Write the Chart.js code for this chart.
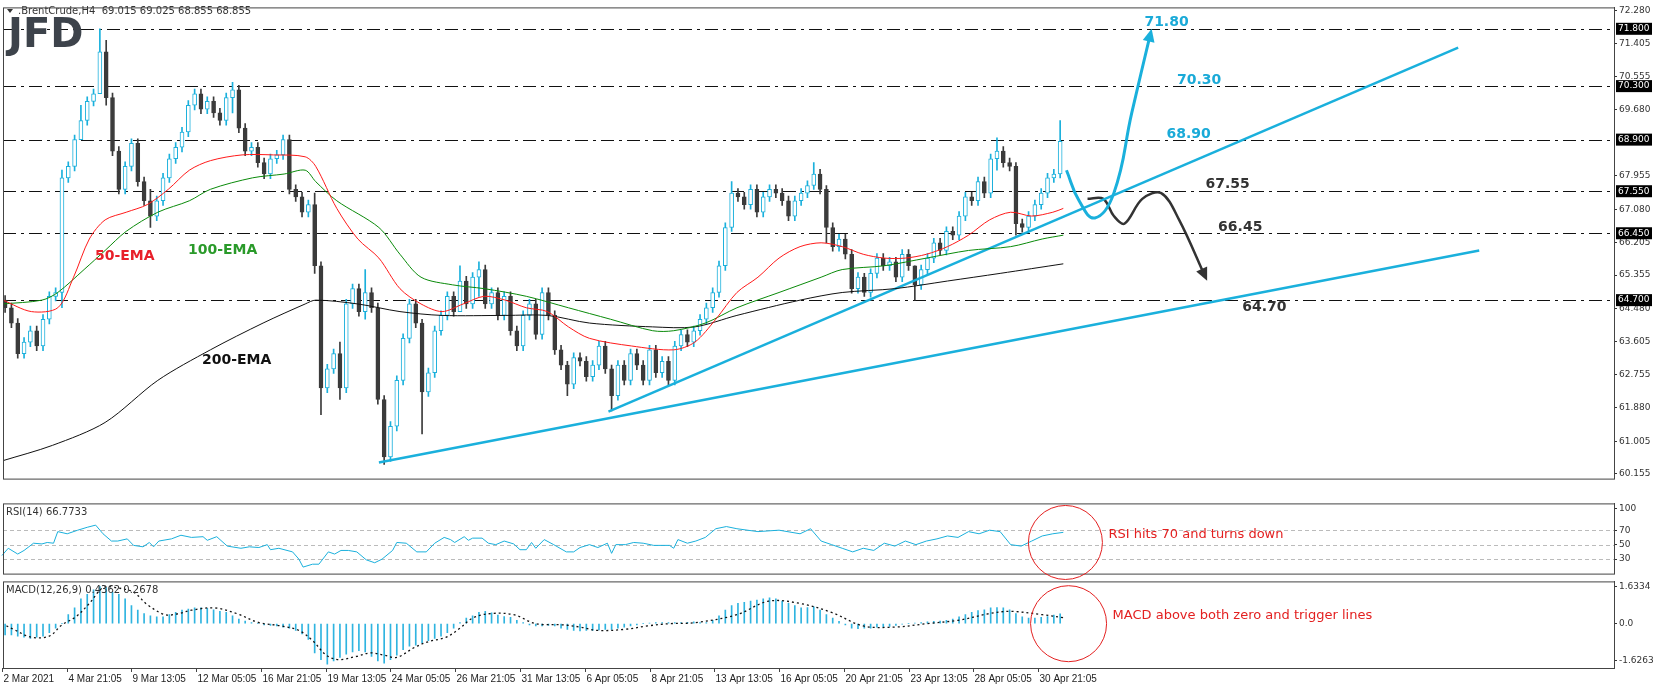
<!DOCTYPE html>
<html>
<head>
<meta charset="utf-8">
<script src="https://cdn.jsdelivr.net/npm/chart.js@4.4.1/dist/chart.umd.min.js"></script>
<style>
  body { margin: 0; background: #fff; width: 1655px; height: 688px; overflow: hidden; position: relative; font-family: "DejaVu Sans", sans-serif; }
  .pane { position: absolute; left: 0; width: 1655px; }
</style>
</head>
<body>
<div class="pane" style="top:0;height:486px"><canvas id="priceChart"></canvas></div>
<div class="pane" style="top:496px;height:85px"><canvas id="rsiChart"></canvas></div>
<div class="pane" style="top:574px;height:114px"><canvas id="macdChart"></canvas></div>
<script>
// --- data (time axis in chart units, one candle every 6 units) ---
const closes = [
  64.5, 64.1, 63.3, 63.6, 63.9, 63.5, 64.2, 64.8, 64.9, 67.9,
  68.2, 68.9, 69.4, 69.9, 70.1, 71.2, 70.0, 68.6, 67.6, 68.2,
  68.8, 67.8, 67.3, 66.9, 67.3, 67.9, 68.4, 68.7, 69.1, 69.8,
  70.1, 69.7, 69.9, 69.6, 69.4, 70.0, 70.2, 69.2, 68.6, 68.7,
  68.3, 68.0, 68.4, 68.5, 68.9, 67.6, 67.4, 67.0, 67.2, 65.6,
  62.4, 62.9, 63.3, 62.4, 64.6, 65.0, 64.4, 64.9, 64.5, 62.1,
  60.6, 61.4, 62.6, 63.7, 64.6, 64.1, 62.3, 62.8, 63.9, 64.3,
  64.8, 64.4, 65.2, 64.6, 65.3, 65.5, 64.6, 64.9, 64.3, 64.8,
  63.9, 63.5, 64.3, 64.6, 63.8, 64.9, 64.3, 63.4, 63.0, 62.5,
  63.2, 63.1, 62.7, 63.0, 63.5, 62.9, 62.2, 63.0, 62.6, 63.3,
  63.0, 62.6, 63.4, 62.8, 63.1, 62.6, 63.5, 63.8, 63.6, 63.9,
  64.2, 64.5, 64.9, 65.6, 66.6, 67.5, 67.4, 67.2, 67.6, 67.0,
  67.4, 67.6, 67.5, 67.3, 66.9, 67.3, 67.5, 67.7, 68.0, 67.6,
  66.6, 66.1, 66.3, 65.9, 65.0, 65.3, 64.9, 65.4, 65.8, 65.6,
  65.7, 65.3, 65.9, 65.6, 65.1, 65.5, 65.8, 66.2, 66.0, 66.5,
  66.4, 66.9, 67.4, 67.3, 67.8, 67.5, 68.4, 68.6, 68.3, 68.2,
  66.7, 66.6, 66.9, 67.2, 67.5, 67.9, 68.0, 68.855
];
const firstOpen = 64.7;
// candle index -> [low, high] where the wick stands out
const wickExtremes = {
  9: [64.5, 68.1], 12: [68.9, 69.8], 15: [70.6, 71.8], 16: [69.8, 71.5], 23: [66.6, 67.6],
  36: [69.6, 70.4], 49: [65.4, 67.5], 50: [61.7, 65.7], 53: [62.1, 63.6], 57: [64.2, 65.5],
  60: [60.4, 62.2], 66: [61.2, 64.2], 72: [64.4, 65.6], 75: [64.8, 65.7], 89: [62.2, 63.1],
  96: [61.8, 63.0], 115: [66.5, 67.8], 128: [67.6, 68.3], 130: [66.2, 67.7], 136: [64.8, 65.4],
  144: [64.7, 65.6], 157: [68.1, 68.95], 160: [66.4, 68.3], 167: [67.9, 69.4]
};
const ema50 = [[3,64.7],[30,64.4],[55,64.5],[70,65.3],[85,66.3],[100,66.8],[120,67.0],[140,67.2],[160,67.6],[180,68.1],[200,68.35],[230,68.5],[260,68.5],[290,68.45],[300,68.2],[320,67.1],[340,66.3],[360,65.8],[380,65.0],[400,64.6],[420,64.4],[440,64.6],[460,64.8],[480,64.7],[500,64.5],[520,64.4],[540,64.0],[560,63.7],[600,63.5],[640,63.4],[660,63.6],[680,64.2],[700,64.9],[720,65.3],[740,65.8],[760,66.1],[780,66.2],[800,66.1],[820,65.9],[840,65.8],[860,65.8],[880,65.9],[900,66.1],[920,66.4],[940,66.8],[960,67.0],[980,66.9],[1000,67.0],[1010,67.1]];
const ema100 = [[3,64.6],[40,64.7],[55,64.9],[80,65.5],[100,66.0],[120,66.5],[150,67.0],[180,67.3],[200,67.6],[240,67.9],[270,68.0],[290,68.1],[300,67.8],[320,67.3],[360,66.6],[380,65.9],[400,65.3],[430,65.1],[460,65.0],[500,64.8],[540,64.5],[580,64.2],[620,63.9],[640,63.9],[670,64.1],[700,64.5],[740,64.9],[780,65.3],[800,65.5],[840,65.6],[880,65.8],[920,66.0],[960,66.1],[990,66.3],[1010,66.4]];
const ema200 = [[3,60.5],[50,60.9],[100,61.5],[150,62.6],[200,63.4],[250,64.1],[290,64.6],[300,64.7],[340,64.6],[380,64.4],[420,64.3],[480,64.3],[520,64.3],[560,64.1],[620,64.0],[660,64.0],[700,64.3],[760,64.7],[800,64.9],[850,65.0],[900,65.2],[950,65.4],[1010,65.65]];
const trendLower = [[360,60.45],[1405,66.0]];
const trendUpper = [[578,61.78],[1385,71.31]];
const bullPath = [[1013,68.1],[1025,67.3],[1040,66.85],[1058,67.5],[1075,69.6],[1093,71.7]];
const bearPath = [[1033,67.35],[1048,67.35],[1058,66.9],[1068,66.7],[1085,67.35],[1103,67.5],[1120,66.8],[1145,65.3]];
const levels = [71.80, 70.30, 68.90, 67.55, 66.45, 64.70];
const levelNotes = [["71.80",1087,71.98,"#1aaad8"],["70.30",1118,70.45,"#1aaad8"],["68.90",1108,69.05,"#1aaad8"],["67.55",1145,67.72,"#333"],["66.45",1157,66.6,"#333"],["64.70",1180,64.50,"#333"]];
const priceTicks = [72.280, 71.405, 70.555, 69.680, 67.955, 67.080, 66.205, 65.355, 64.480, 63.605, 62.755, 61.880, 61.005, 60.155];

const rsi = [[2,35],[8,45],[17,37],[23,42],[32,52],[40,51],[45,53],[51,52],[55,68],[64,65],[74,70],[83,74],[91,77],[98,65],[106,55],[112,55],[121,58],[127,49],[136,47],[142,53],[146,47],[151,55],[163,58],[172,63],[182,60],[193,61],[197,56],[206,61],[216,48],[229,45],[237,47],[246,46],[254,50],[257,43],[265,45],[278,40],[284,30],[288,19],[297,23],[303,23],[312,40],[318,37],[324,42],[331,42],[339,40],[348,29],[356,25],[363,30],[373,42],[377,53],[386,52],[396,40],[405,40],[413,52],[422,60],[428,57],[432,53],[441,61],[445,56],[449,59],[458,59],[464,52],[471,50],[479,55],[488,51],[494,43],[500,43],[505,53],[509,45],[517,57],[526,50],[538,40],[545,40],[551,46],[560,50],[568,46],[577,52],[581,38],[585,50],[594,50],[602,53],[611,52],[621,49],[636,49],[640,45],[644,57],[653,52],[661,55],[670,60],[680,72],[690,75],[700,72],[720,68],[740,70],[760,65],[770,72],[780,55],[790,50],[800,45],[810,40],[820,45],[830,42],[840,52],[850,48],[860,55],[870,50],[880,55],[890,58],[900,62],[910,60],[920,68],[930,65],[940,70],[950,68],[960,50],[970,48],[980,55],[990,62],[1000,65],[1010,67]];
const rsiTicks = [100, 70, 50, 30];

const macdHist = [
  -0.5, -0.5, -0.55, -0.6, -0.65, -0.6, -0.55, -0.4, -0.2, 0.0,
  0.4, 0.7, 1.1, 1.3, 1.5, 1.65, 1.6, 1.4, 1.3, 1.1,
  0.8, 0.6, 0.45, 0.35, 0.3, 0.3, 0.4, 0.5, 0.6, 0.65,
  0.7, 0.7, 0.68, 0.62, 0.55, 0.5, 0.35, 0.2, 0.12, 0.05,
  0.0, -0.05, -0.08, -0.1, -0.15, -0.2, -0.3, -0.45, -0.7, -1.3,
  -1.6, -1.8, -1.65, -1.5, -1.35, -1.25, -1.2, -1.25, -1.45, -1.65,
  -1.75, -1.6, -1.4, -1.15, -1.0, -0.95, -0.85, -0.75, -0.65, -0.55,
  -0.4, -0.2, 0.05, 0.25, 0.35, 0.5, 0.55, 0.48, 0.38, 0.32,
  0.28, 0.15, 0.05, -0.05, -0.1, -0.1, -0.08, -0.1, -0.2, -0.25,
  -0.3, -0.32, -0.3, -0.3, -0.28, -0.25, -0.25, -0.2, -0.15, -0.1,
  -0.05, 0.0, 0.03, 0.05, 0.05, 0.05, 0.05, 0.05, 0.06, 0.08,
  0.05, 0.05, 0.15, 0.35, 0.6, 0.8, 0.9, 0.95, 1.0, 1.05,
  1.1, 1.15, 1.1, 1.0, 0.9, 0.8, 0.7, 0.72, 0.75, 0.6,
  0.4, 0.25, 0.1, -0.05, -0.2, -0.22, -0.2, -0.2, -0.15, -0.15,
  -0.12, -0.08, -0.02, 0.0, 0.02, 0.05, 0.08, 0.1, 0.12, 0.15,
  0.2, 0.3, 0.4, 0.5, 0.58, 0.62, 0.7, 0.72, 0.7, 0.62,
  0.45, 0.3, 0.25, 0.25, 0.28, 0.32, 0.38, 0.4362
];
const macdSignal = [[2,0.0],[13,-0.25],[30,-0.6],[47,-0.55],[59,-0.05],[72,0.3],[85,0.9],[98,1.6],[110,1.6],[127,1.4],[140,0.85],[157,0.4],[170,0.45],[182,0.6],[204,0.7],[225,0.45],[246,0.05],[267,-0.1],[284,-0.3],[297,-0.75],[310,-1.4],[322,-1.6],[339,-1.45],[352,-1.3],[365,-1.4],[377,-1.5],[394,-1.05],[407,-0.8],[424,-0.6],[437,-0.2],[449,0.25],[466,0.45],[488,0.4],[509,0.0],[534,-0.05],[551,-0.15],[568,-0.3],[594,-0.25],[615,-0.1],[636,0.0],[661,0.05],[700,0.4],[730,1.0],[760,0.9],[790,0.5],[820,-0.1],[850,-0.15],[880,0.0],[910,0.15],[940,0.45],[960,0.55],[990,0.4],[1010,0.2678]];
const macdTicks = [1.6334, 0.0, -1.6263];

const dateLabels = ["2 Mar 2021","4 Mar 21:05","9 Mar 13:05","12 Mar 05:05","16 Mar 21:05","19 Mar 13:05","24 Mar 05:05","26 Mar 21:05","31 Mar 13:05","6 Apr 05:05","8 Apr 21:05","13 Apr 13:05","16 Apr 05:05","20 Apr 21:05","23 Apr 13:05","28 Apr 05:05","30 Apr 21:05"];
const dateStart = 2, dateStep = 61.5;

// --- helpers ---
const CYAN = "#1ab0dc", DARK = "#3b3b3b";
const X_MIN = 3, X_MAX = 1533, AXIS_W = 41;
const t = closes.map((_, k) => 5 + 6 * k);
const opens = closes.map((c, k) => (k === 0 ? firstOpen : closes[k - 1]));
const bull = closes.map((c, k) => c >= opens[k]);
const pts = (arr) => arr.map(([x, y]) => ({ x, y }));
const SMALL = "10px Tahoma, 'DejaVu Sans', sans-serif";
const fontAxis = { family: "Tahoma, 'DejaVu Sans', sans-serif", size: 9 };

function xScale() {
  return { type: "linear", min: X_MIN, max: X_MAX, offset: false, display: false };
}
function yScale(min, max, ticks, fmt) {
  return {
    type: "linear", position: "right", min, max,
    afterBuildTicks: (s) => { s.ticks = ticks.map((v) => ({ value: v })); },
    afterFit: (s) => { s.width = AXIS_W; },
    ticks: { color: "#333", font: fontAxis, padding: 2, callback: fmt, autoSkip: false },
    grid: { drawOnChartArea: false, tickLength: 3, color: "#333" },
    border: { color: "#444" },
  };
}

const framePlugin = {
  id: "frame",
  afterDraw(chart) {
    const { ctx, chartArea: a } = chart;
    ctx.save();
    ctx.strokeStyle = "#444";
    ctx.lineWidth = 1;
    ctx.strokeRect(a.left + 0.5, a.top + 0.5, a.right - a.left, a.bottom - a.top);
    ctx.restore();
  },
};

function label(ctx, text, x, y, font, color, align) {
  ctx.font = font;
  ctx.fillStyle = color;
  ctx.textAlign = align || "left";
  ctx.textBaseline = "middle";
  ctx.fillText(text, x, y);
}

function arrowHead(ctx, chart, path, color) {
  const xs = chart.scales.x, ys = chart.scales.y;
  const [x1, y1] = path[path.length - 2], [x2, y2] = path[path.length - 1];
  const px1 = xs.getPixelForValue(x1), py1 = ys.getPixelForValue(y1);
  const px2 = xs.getPixelForValue(x2), py2 = ys.getPixelForValue(y2);
  const ang = Math.atan2(py2 - py1, px2 - px1);
  ctx.save();
  ctx.fillStyle = color;
  ctx.translate(px2, py2);
  ctx.rotate(ang);
  ctx.beginPath();
  ctx.moveTo(4, 0);
  ctx.lineTo(-9, -6);
  ctx.lineTo(-9, 6);
  ctx.closePath();
  ctx.fill();
  ctx.restore();
}

const pricePlugin = {
  id: "priceExtras",
  beforeDatasetsDraw(chart) {
    const { ctx, chartArea: a, scales: { y } } = chart;
    ctx.save();
    ctx.strokeStyle = "#111";
    ctx.lineWidth = 1;
    ctx.setLineDash([13, 5, 3, 5]);
    levels.forEach((v) => {
      const py = Math.round(y.getPixelForValue(v)) + 0.5;
      ctx.beginPath(); ctx.moveTo(a.left, py); ctx.lineTo(a.right, py); ctx.stroke();
    });
    ctx.restore();
  },
  afterDraw(chart) {
    const { ctx, chartArea: a, scales: { x, y } } = chart;
    ctx.save();
    // price boxes on the axis
    levels.forEach((v) => {
      const py = y.getPixelForValue(v);
      ctx.fillStyle = "#000";
      ctx.fillRect(a.right + 2, py - 6, 36, 12);
      label(ctx, v.toFixed(3), a.right + 4, py, "9px Tahoma, 'DejaVu Sans', sans-serif", "#fff");
    });
    levelNotes.forEach(([txt, tx, ty, col]) =>
      label(ctx, txt, x.getPixelForValue(tx), y.getPixelForValue(ty), "bold 14px 'DejaVu Sans', sans-serif", col));
    label(ctx, "50-EMA", 95, 256, "bold 14px 'DejaVu Sans', sans-serif", "#e8202a");
    label(ctx, "100-EMA", 188, 250, "bold 14px 'DejaVu Sans', sans-serif", "#2a9a2a");
    label(ctx, "200-EMA", 202, 360, "bold 14px 'DejaVu Sans', sans-serif", "#111");
    arrowHead(ctx, chart, bullPath, CYAN);
    arrowHead(ctx, chart, bearPath, "#333");
    // header + logo
    ctx.fillStyle = "#333";
    ctx.beginPath(); ctx.moveTo(7, 9); ctx.lineTo(13, 9); ctx.lineTo(10, 13); ctx.closePath(); ctx.fill();
    label(ctx, ".BrentCrude,H4  69.015 69.025 68.855 68.855", 18, 11, SMALL, "#333");
    label(ctx, "JFD", 8, 37, "bold 40px 'DejaVu Sans', sans-serif", "#3d434b");
    ctx.restore();
  },
};

// --- main price chart ---
const lineDs = (data, color, width, extra) => Object.assign({
  type: "line", data: pts(data), borderColor: color, borderWidth: width,
  pointRadius: 0, fill: false, tension: 0, order: 0,
}, extra || {});

new Chart(document.getElementById("priceChart"), {
  type: "bar",
  data: {
    datasets: [
      lineDs(ema50, "#ff1a1a", 1, { tension: 0.3 }),
      lineDs(ema100, "#0a8a0a", 1, { tension: 0.3 }),
      lineDs(ema200, "#111", 1, { tension: 0.3 }),
      lineDs(trendLower, CYAN, 2.5),
      lineDs(trendUpper, CYAN, 2.5),
      lineDs(bullPath, CYAN, 3, { tension: 0.45 }),
      lineDs(bearPath, "#333", 2.5, { tension: 0.35 }),
      {
        data: t.map((x, k) => {
          const ex = wickExtremes[k];
          const lo = ex ? ex[0] : Math.min(opens[k], closes[k]) - 0.12;
          const hi = ex ? ex[1] : Math.max(opens[k], closes[k]) + 0.12;
          return { x, y: [lo, hi] };
        }),
        backgroundColor: bull.map((b) => (b ? CYAN : DARK)),
        barThickness: 1, order: 2,
      },
      {
        data: t.map((x, k) => ({ x, y: [opens[k], closes[k] === opens[k] ? opens[k] + 0.03 : closes[k]] })),
        backgroundColor: bull.map((b) => (b ? "#fff" : DARK)),
        borderColor: bull.map((b) => (b ? CYAN : DARK)),
        borderWidth: 1, borderSkipped: false, barThickness: 4, order: 1,
      },
    ],
  },
  options: {
    responsive: true, maintainAspectRatio: false, animation: false,
    layout: { padding: { left: 3, top: 5, bottom: 2, right: 0 } },
    datasets: { bar: { grouped: false } },
    plugins: { legend: { display: false }, tooltip: { enabled: false } },
    scales: {
      x: xScale(),
      y: yScale(60.03, 72.36, priceTicks, (v) => v.toFixed(3)),
    },
  },
  plugins: [pricePlugin, framePlugin],
});

// --- RSI ---
const circlePlugin = (cx, cy, r, text) => ({
  id: "circle",
  afterDraw(chart) {
    const { ctx, scales: { x, y } } = chart;
    const px = x.getPixelForValue(cx), py = y.getPixelForValue(cy);
    ctx.save();
    ctx.strokeStyle = "#e32020";
    ctx.lineWidth = 1;
    ctx.beginPath(); ctx.arc(px, py, r, 0, Math.PI * 2); ctx.stroke();
    label(ctx, text, px + r + 6, py - 8, "13px 'DejaVu Sans', sans-serif", "#e32020");
    ctx.restore();
  },
});
const panelLabel = (text) => ({
  id: "panelLabel",
  afterDraw(chart) {
    label(chart.ctx, text, 6, chart.chartArea.top + 9, SMALL, "#333");
  },
});

new Chart(document.getElementById("rsiChart"), {
  type: "line",
  data: { datasets: [lineDs(rsi, CYAN, 1)] },
  options: {
    responsive: true, maintainAspectRatio: false, animation: false, clip: false,
    layout: { padding: { left: 3, top: 2, bottom: 2 } },
    plugins: { legend: { display: false }, tooltip: { enabled: false } },
    scales: { x: xScale(), y: yScale(10, 107, rsiTicks, (v) => String(v)) },
  },
  plugins: [{
    id: "rsiLevels",
    beforeDatasetsDraw(chart) {
      const { ctx, chartArea: a, scales: { y } } = chart;
      ctx.save(); ctx.strokeStyle = "#bbb"; ctx.setLineDash([4, 3]);
      [70, 50, 30].forEach((v) => {
        const py = Math.round(y.getPixelForValue(v)) + 0.5;
        ctx.beginPath(); ctx.moveTo(a.left, py); ctx.lineTo(a.right, py); ctx.stroke();
      });
      ctx.restore();
    },
  }, framePlugin, panelLabel("RSI(14) 66.7733"), circlePlugin(1012, 53, 37, "RSI hits 70 and turns down")],
});

// --- MACD ---
new Chart(document.getElementById("macdChart"), {
  type: "bar",
  data: {
    datasets: [
      lineDs(macdSignal, "#111", 1.3, { borderDash: [2, 3], tension: 0.35 }),
      { data: t.map((x, k) => ({ x, y: [0, macdHist[k]] })), backgroundColor: "#2fb4e0", barThickness: 1, order: 1 },
    ],
  },
  options: {
    responsive: true, maintainAspectRatio: false, animation: false,
    layout: { padding: { left: 3, top: 1, bottom: 20 } },
    datasets: { bar: { grouped: false } },
    plugins: { legend: { display: false }, tooltip: { enabled: false } },
    scales: { x: xScale(), y: yScale(-1.97, 1.88, macdTicks, (v) => (v === 0 ? "0.0" : v.toFixed(4))) },
  },
  plugins: [framePlugin, panelLabel("MACD(12,26,9) 0.4362 0.2678"), circlePlugin(1015, 0, 38, "MACD above both zero and trigger lines"), {
    id: "dates",
    afterDraw(chart) {
      const { ctx, chartArea: a, scales: { x } } = chart;
      ctx.save(); ctx.strokeStyle = "#444";
      dateLabels.forEach((d, i) => {
        const px = Math.round(x.getPixelForValue(dateStart + dateStep * i)) + 0.5;
        ctx.beginPath(); ctx.moveTo(px, a.bottom); ctx.lineTo(px, a.bottom + 4); ctx.stroke();
        label(ctx, d, px + 1, a.bottom + 11, "10px 'Liberation Sans', Arial, sans-serif", "#222");
      });
      ctx.restore();
    },
  }],
});
</script>
</body>
</html>
